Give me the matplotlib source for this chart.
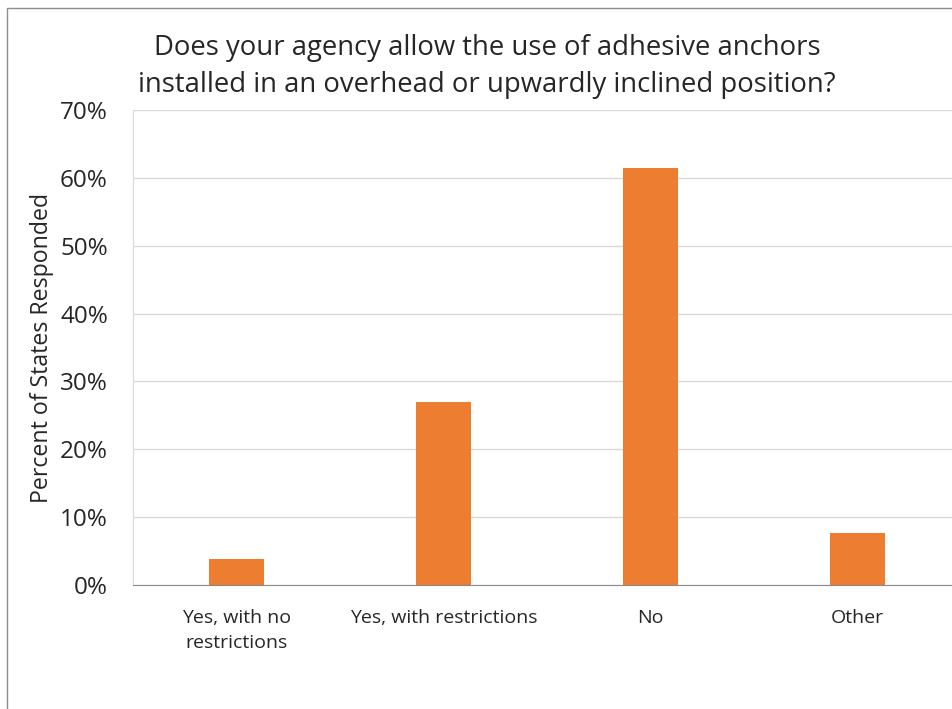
import matplotlib.pyplot as plt
from matplotlib.patches import Rectangle
from matplotlib.ticker import PercentFormatter

categories = ["Yes, with no\nrestrictions", "Yes, with restrictions", "No", "Other"]
percents = [3.85, 26.9, 61.5, 7.7]

plt.rcParams['font.family'] = ['Open Sans', 'DejaVu Sans']

fig = plt.figure(figsize=(9.53, 7.09), dpi=100)
# plot area runs slightly past the right edge, like the original
ax = fig.add_axes([133 / 953, 0.1749, 828 / 953, 0.67])

ax.bar(range(len(categories)), percents, width=0.265, color='#ed7d31', zorder=3)
ax.set_xlim(-0.5, len(categories) - 0.5)
ax.set_ylim(0, 70)
ax.set_yticks(range(0, 71, 10))
ax.yaxis.set_major_formatter(PercentFormatter(decimals=0))
ax.set_xticks(range(len(categories)))
ax.set_xticklabels(categories, fontsize=14, color='#262626', linespacing=1.55)
ax.tick_params(axis='y', labelsize=17.5, colors='#262626', length=0, pad=18)
ax.tick_params(axis='x', length=0, pad=17)
ax.grid(axis='y', color='#d9d9d9', linewidth=1, zorder=0)
for s in ['top', 'right']:
    ax.spines[s].set_visible(False)
ax.spines['left'].set_color('#d9d9d9')
ax.spines['bottom'].set_color('#8c8c8c')
ax.spines['bottom'].set_zorder(4)

ax.set_ylabel("Percent of States Responded", fontsize=16.7, color='#262626', labelpad=4)
fig.text(0.511, 0.906, "Does your agency allow the use of adhesive anchors\n"
         "installed in an overhead or upwardly inclined position?",
         ha='center', va='center', fontsize=19.8, color='#262626', linespacing=1.45)

fig.patches.append(Rectangle((7 / 953, -0.05), 1.2, 1.05 - 8 / 709, transform=fig.transFigure,
                             fill=False, edgecolor='#8c8c8c', linewidth=1))

fig.savefig('out.png', dpi=100)
